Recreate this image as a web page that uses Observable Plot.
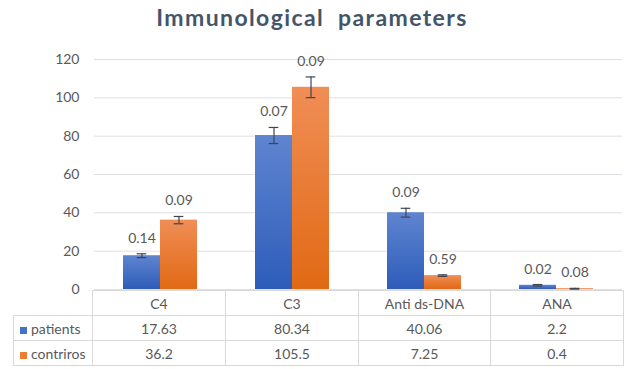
<!DOCTYPE html>
<html>
<head>
<meta charset="utf-8">
<script src="https://cdn.jsdelivr.net/npm/d3@7"></script>
<script src="https://cdn.jsdelivr.net/npm/@observablehq/plot@0.6"></script>
<style>
  html, body { margin: 0; padding: 0; background: #fff; }
  body { width: 624px; height: 369px; position: relative; overflow: hidden; font-family: Lato, "Open Sans", sans-serif; }
  #title { position: absolute; left: 0; top: 6px; width: 624px; text-align: center; font-weight: bold; font-size: 23px; line-height: 22px; letter-spacing: 1.4px; color: #44546a; white-space: pre; }
  #chart { position: absolute; left: 0; top: 40px; }
  #tbl { position: absolute; left: 13px; top: 290px; border-collapse: collapse; table-layout: fixed; font-size: 14px; color: #595959; }
  #tbl td { border: 1px solid #d9d9d9; text-align: center; padding: 0; height: 24px; white-space: nowrap; }
  #tbl td.lab { text-align: left; padding-left: 6px; }
  #tbl td.empty { border-top: none; border-left: none; }
  .sw { display: inline-block; width: 7px; height: 7px; margin-right: 4px; vertical-align: 0px; }
</style>
</head>
<body>
<div id="title"></div>
<div id="chart"></div>
<table id="tbl"></table>
<script>
const title = "Immunological  parameters";
const categories = ["C4", "C3", "Anti ds-DNA", "ANA"];
const series = ["patients", "contriros"];
const patients = [17.63, 80.34, 40.06, 2.2];
const controls = [36.2, 105.5, 7.25, 0.4];
const patientsErr = [1.0, 4.2, 2.3, 0.4];
const controlsErr = [1.9, 5.4, 0.4, 0.2];
const patientsLabels = ["0.14", "0.07", "0.09", "0.02"];
const controlsLabels = ["0.09", "0.09", "0.59", "0.08"];
const patientsTable = ["17.63", "80.34", "40.06", "2.2"];
const controlsTable = ["36.2", "105.5", "7.25", "0.4"];
const yTicks = [0, 20, 40, 60, 80, 100, 120];
const seriesColors = ["#4472c4", "#ed7d31"];

document.getElementById("title").textContent = title;

const values = [patients, controls];
const errs = [patientsErr, controlsErr];
const labels = [patientsLabels, controlsLabels];
const data = [];
series.forEach((s, si) => {
  categories.forEach((c, ci) => {
    data.push({cat: c, series: s, value: values[si][ci], err: errs[si][ci], label: labels[si][ci]});
  });
});

const errColor = "#3f4550";

const chart = Plot.plot({
  width: 624,
  height: 260,
  marginTop: 19,
  marginBottom: 11,
  marginLeft: 92,
  marginRight: 1,
  style: {fontFamily: "Lato, 'Open Sans', sans-serif", fontSize: "14px", color: "#595959", background: "transparent", overflow: "visible"},
  fx: {domain: categories, padding: 0, axis: null, label: null},
  x: {domain: series, paddingInner: 0, paddingOuter: 0.775, axis: null, label: null},
  y: {domain: [0, 120], label: null},
  marks: [
    Plot.ruleY(yTicks, {stroke: "#dde1e6", strokeWidth: 1}),
    Plot.axisY({ticks: yTicks, tickSize: 0, tickPadding: 15, label: null, fontSize: 14, fill: "#595959"}),
    Plot.barY(data.filter(d => d.series === series[0]), {fx: "cat", x: "series", y: "value", fill: "url(#gBlue)"}),
    Plot.barY(data.filter(d => d.series === series[1]), {fx: "cat", x: "series", y: "value", fill: "url(#gOrange)"}),
    Plot.ruleX(data, {fx: "cat", x: "series", y1: d => d.value - d.err, y2: d => d.value + d.err, stroke: errColor, strokeWidth: 1.2}),
    Plot.tickY(data, {fx: "cat", x: "series", y: d => d.value + d.err, stroke: errColor, strokeWidth: 1.2, insetLeft: 13.7, insetRight: 13.7}),
    Plot.tickY(data, {fx: "cat", x: "series", y: d => d.value - d.err, stroke: errColor, strokeWidth: 1.2, insetLeft: 13.7, insetRight: 13.7}),
    Plot.text(data, {fx: "cat", x: "series", y: d => d.value + d.err, text: "label", lineAnchor: "bottom", dy: -11, fill: "#595959", fontSize: 14})
  ]
});

const defs = d3.select(chart).insert("defs", ":first-child");
function grad(id, top, bottom) {
  const g = defs.append("linearGradient").attr("id", id).attr("x1", 0).attr("y1", 0).attr("x2", 0).attr("y2", 1);
  g.append("stop").attr("offset", "0%").attr("stop-color", top);
  g.append("stop").attr("offset", "100%").attr("stop-color", bottom);
}
grad("gBlue", "#5f85d0", "#2d5cb9");
grad("gOrange", "#f08e56", "#e16914");

document.getElementById("chart").appendChild(chart);

// data table below the chart
const tbl = d3.select("#tbl");
const colg = tbl.append("colgroup");
colg.append("col").style("width", "79px");
[133, 133, 132, 133].forEach(w => colg.append("col").style("width", w + "px"));
const head = tbl.append("tr");
head.append("td").attr("class", "empty");
categories.forEach(c => head.append("td").text(c));
const rowsData = [patientsTable, controlsTable];
series.forEach((s, si) => {
  const tr = tbl.append("tr");
  const lab = tr.append("td").attr("class", "lab");
  lab.append("span").attr("class", "sw").style("background", seriesColors[si]);
  lab.append("span").text(s);
  rowsData[si].forEach(v => tr.append("td").text(v));
});
</script>
</body>
</html>
